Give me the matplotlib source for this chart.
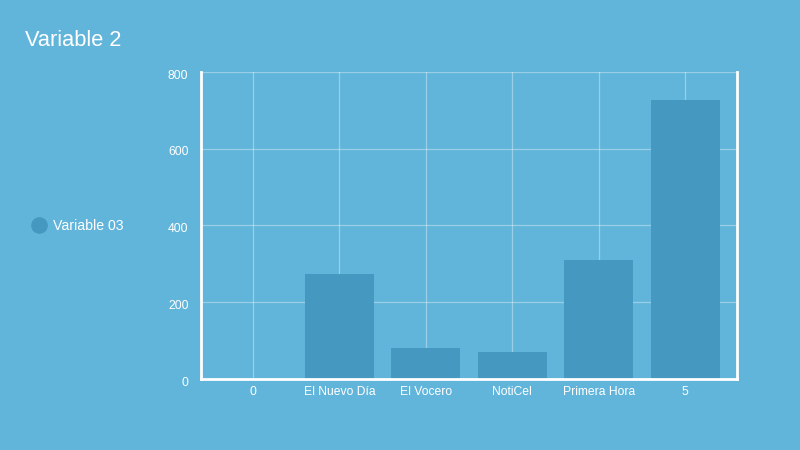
import matplotlib.pyplot as plt
import matplotlib.transforms as mtransforms
from matplotlib.lines import Line2D

plt.rcParams['font.family'] = ['Liberation Sans', 'DejaVu Sans']

categories = ['0', 'El Nuevo Día', 'El Vocero', 'NotiCel', 'Primera Hora', '5']
values = [0, 273, 80, 70, 309, 727]
yticks = [0, 200, 400, 600, 800]

bg = '#62b5da'
bar_color = '#4599c0'

fig = plt.figure(figsize=(8, 4.5), dpi=100, facecolor=bg)
ax = fig.add_axes([0.25125, 0.1578, 0.67, 0.6822])
ax.set_facecolor(bg)

x = range(len(categories))
ax.bar(x, values, width=0.8, color=bar_color, zorder=2)

ax.set_xlim(-0.6, 5.6)
ax.set_ylim(0, 800)
ax.set_xticks(list(x))
ax.set_xticklabels(categories)
ax.set_yticks(yticks)
ax.tick_params(colors='white', labelsize=8.75, length=0)
ax.tick_params(axis='x', pad=5)
ax.tick_params(axis='y', pad=9)

# nudge y labels down a little
offset = mtransforms.ScaledTranslation(0, -1.5 / 72, fig.dpi_scale_trans)
for lab in ax.get_yticklabels():
    lab.set_transform(lab.get_transform() + offset)

ax.grid(True, color='white', alpha=0.35, linewidth=0.9, zorder=1)
ax.set_axisbelow(True)

for s in ['left', 'right', 'bottom']:
    ax.spines[s].set_color('white')
    ax.spines[s].set_linewidth(2)
ax.spines['top'].set_visible(False)

fig.text(25 / 800, 1 - 41 / 450, 'Variable 2', color='white', fontsize=15.7, va='center', ha='left')

handle = Line2D([], [], marker='o', linestyle='none', markersize=11,
                markerfacecolor=bar_color, markeredgecolor=bar_color)
fig.legend([handle], ['Variable 03'], loc='center left',
           bbox_to_anchor=(23 / 800, 1 - 226 / 450), frameon=False,
           labelcolor='white', fontsize=10.2, handletextpad=0.45, borderpad=0,
           handlelength=1.2)

fig.savefig('out.png', dpi=100, facecolor=bg)
